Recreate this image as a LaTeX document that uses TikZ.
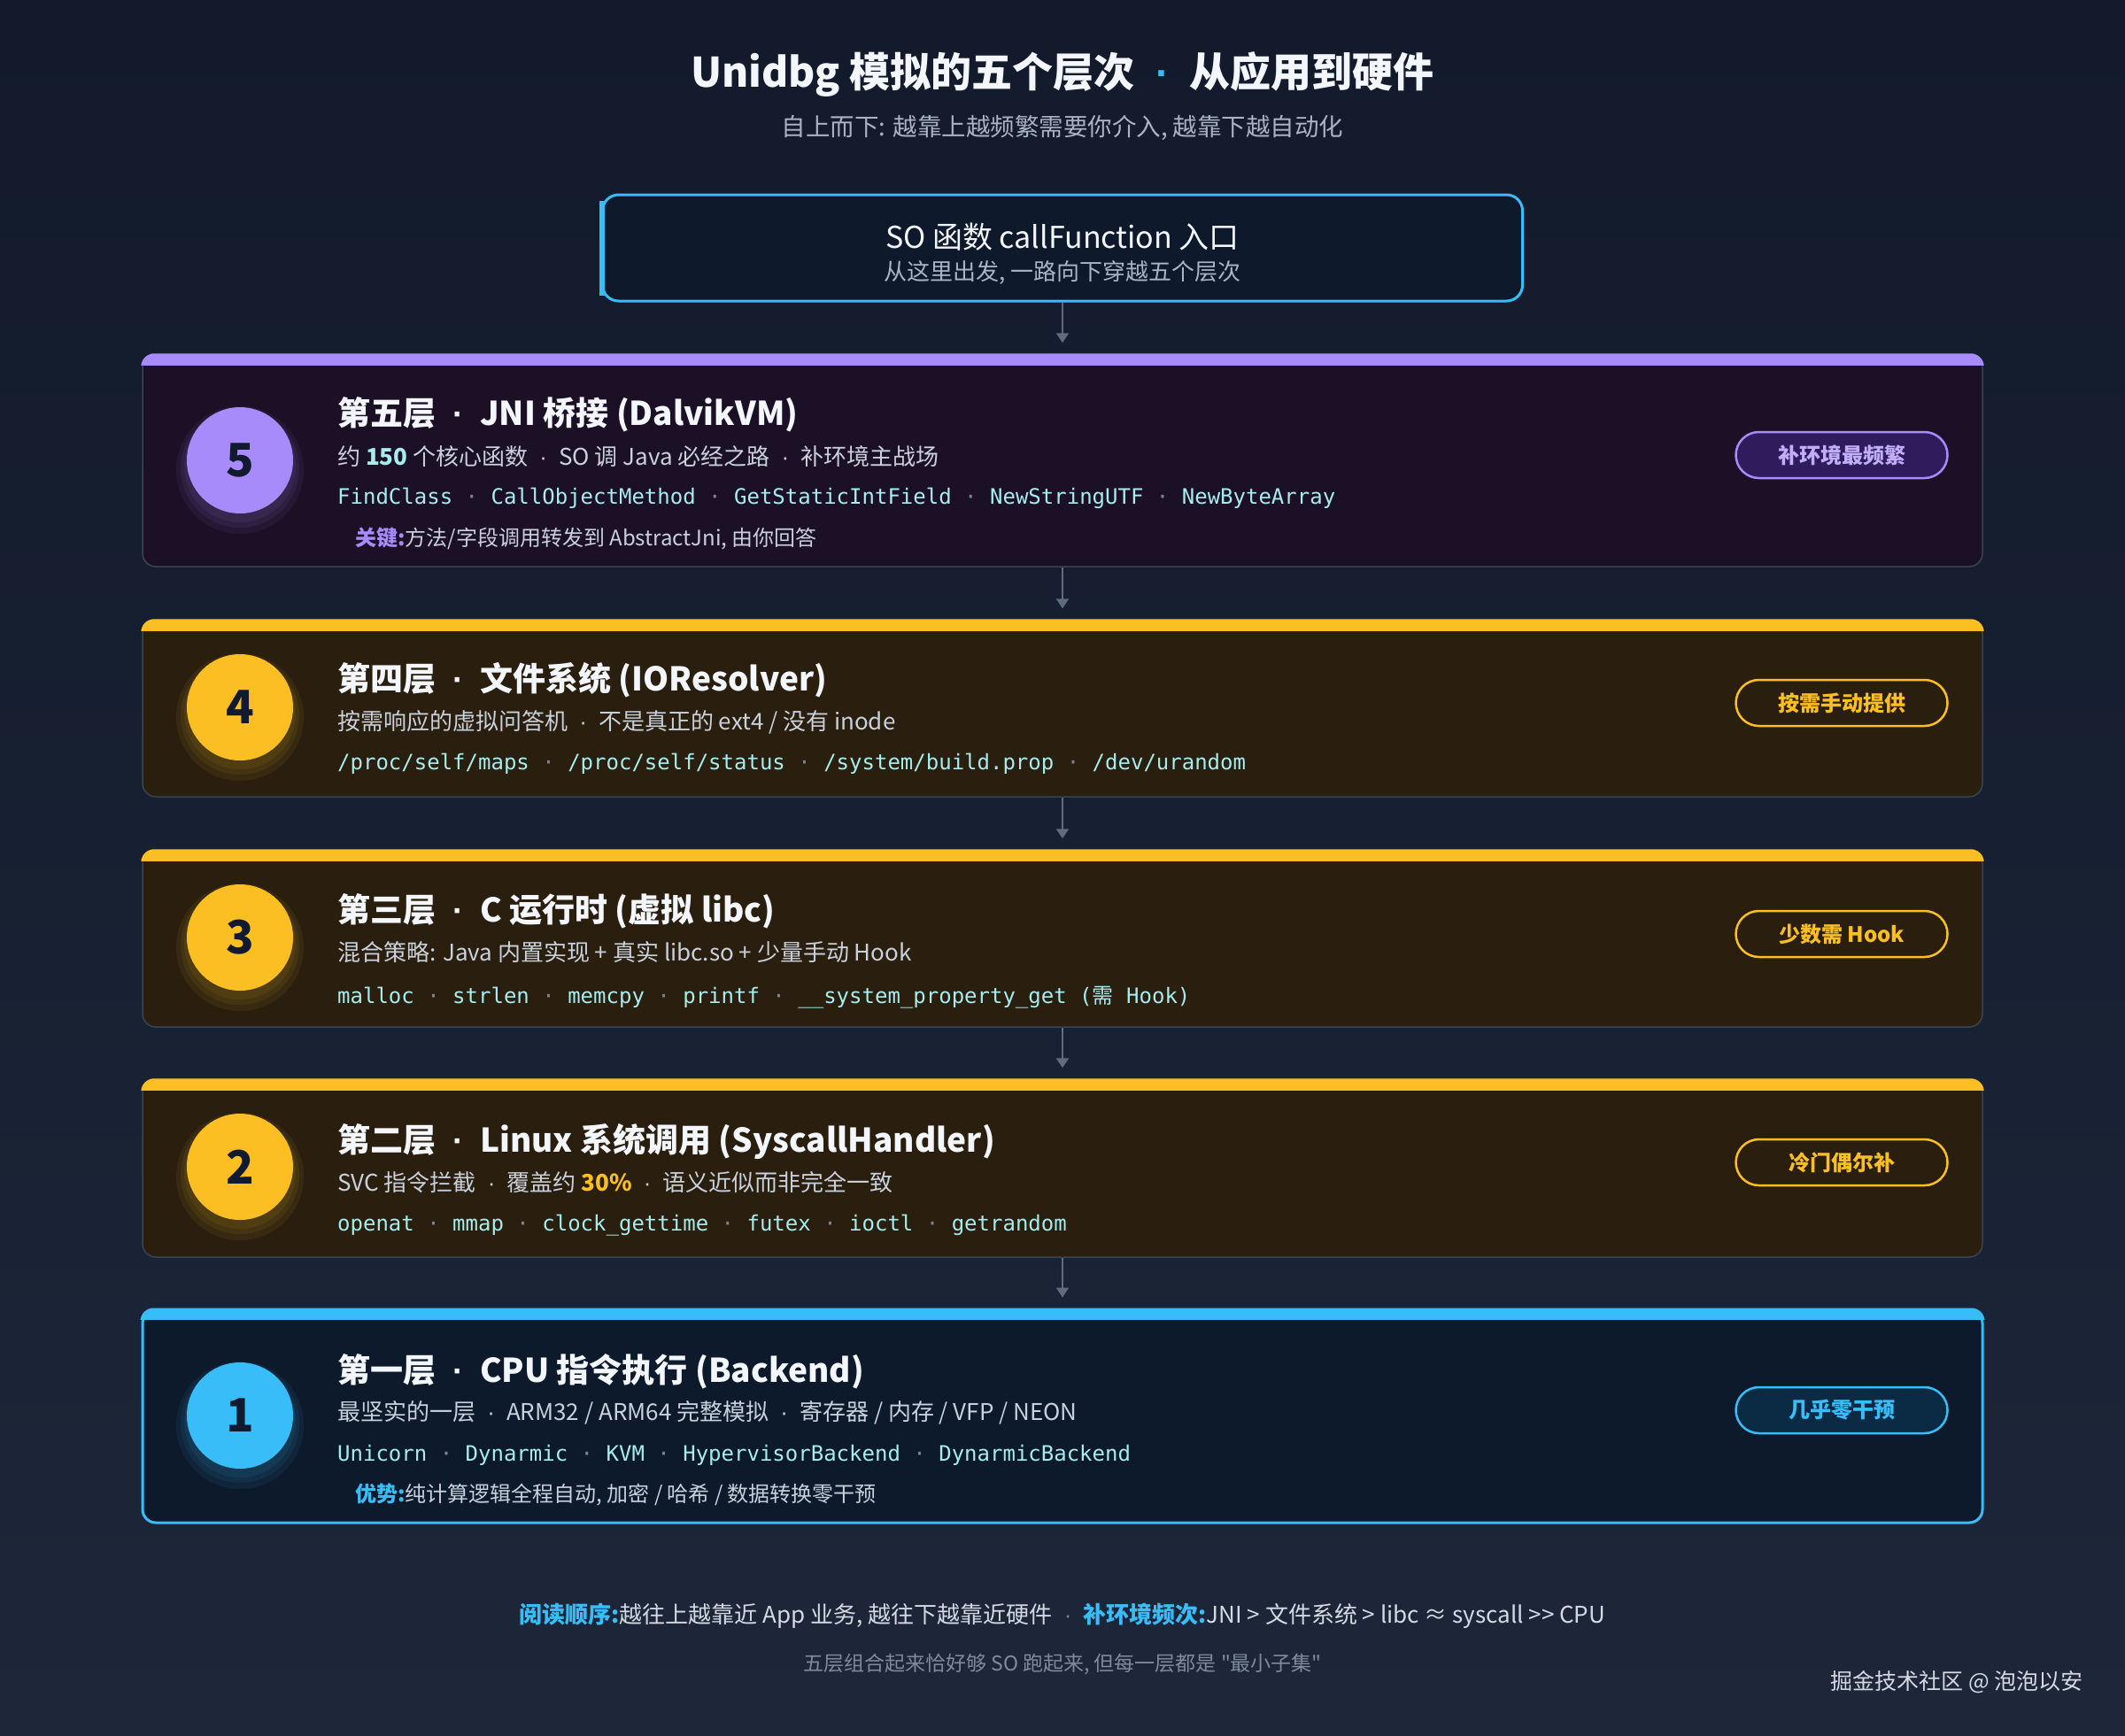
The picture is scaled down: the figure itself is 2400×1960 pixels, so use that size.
\documentclass[tikz,border=0pt]{standalone}
\usepackage{fontspec}
\setmainfont{Noto Sans CJK SC}[Ligatures=TeXOff]
\setmonofont{DejaVu Sans Mono}
\newfontfamily\cjkf{Noto Sans CJK SC}
\newfontfamily\dotf{Liberation Sans}
\usetikzlibrary{positioning,calc,arrows.meta}

\definecolor{bgtop}{HTML}{121A2B}
\definecolor{bgbot}{HTML}{1D2739}
\definecolor{entryfill}{HTML}{0E1A2C}
\definecolor{cyanline}{HTML}{38BDF8}
\definecolor{barpurple}{HTML}{A78BFA}
\definecolor{baryellow}{HTML}{FBBF24}
\definecolor{purplefill}{HTML}{1C1027}
\definecolor{brownfill}{HTML}{2A1F0F}
\definecolor{navyfill}{HTML}{0D1A2C}
\definecolor{edgegray}{HTML}{3B4352}
\definecolor{titlewhite}{HTML}{F3F6FA}
\definecolor{subgray}{HTML}{C9D1DC}
\definecolor{codecyan}{HTML}{A7ECEE}
\definecolor{dotgray}{HTML}{7C8596}
\definecolor{arrowgray}{HTML}{5F6B7E}
\definecolor{numink}{HTML}{111A2E}
\definecolor{badgepurple}{HTML}{2E1C5C}
\definecolor{badgepurpletext}{HTML}{C0AEFA}
\definecolor{badgeblue}{HTML}{0B2B45}
\definecolor{foottext}{HTML}{D3DAE4}
\definecolor{footgray}{HTML}{7F8A9C}
\definecolor{headgray}{HTML}{AAB4C3}

\newcommand{\fsize}[1]{\fontsize{#1}{#1}\selectfont}
\newcommand{\sepdot}{~{\color{dotgray}·}~}
\newcommand{\mdot}{\hspace{0.28em}{\dotf ·}\hspace{0.28em}}

\begin{document}
\begin{tikzpicture}[x=1pt,y=-1pt,
    every node/.style={inner sep=0pt},
    layerbox/.style={draw=edgegray, line width=1.5pt, rounded corners=15pt, minimum width=2078pt},
    num/.style={circle, fill=#1, minimum size=120pt, text=numink, font=\fsize{52}\bfseries},
    badge/.style={draw=#1, line width=2.5pt, rounded corners=26pt, minimum width=239pt,
        minimum height=52pt, font=\fsize{24}\bfseries},
    ltitle/.style={anchor=west, text=titlewhite, font=\fsize{37}\bfseries},
    lsub/.style={anchor=west, text=subgray, font=\fsize{26}},
    lcode/.style={anchor=west, text=codecyan, font=\ttfamily\fsize{24}},
    lnote/.style={anchor=west, text=subgray, font=\fsize{24}},
    link/.style={draw=arrowgray, line width=2pt, -{Triangle[width=14pt,length=11pt]}, shorten >=13pt}
]
% background
\shade[top color=bgtop, bottom color=bgbot] (0,0) rectangle (2400,1960);
\useasboundingbox (0,0) rectangle (2400,1960);

% heading
\node[text=titlewhite, font=\fsize{46}\bfseries] (title) at (1200,84)
    {Unidbg 模拟的五个层次 {\color{cyanline}\mdot} 从应用到硬件};
\node[text=headgray, font=\fsize{27.5}] (subtitle) at (1200,144)
    {自上而下: 越靠上越频繁需要你介入, 越靠下越自动化};

% entry
\node[draw=cyanline, line width=3pt, fill=entryfill, rounded corners=18pt,
    minimum width=1039pt, minimum height=120pt] (entry) at (1200,280) {};
\draw[cyanline, line width=6pt] ($(entry.north west)+(1,8)$) -- ($(entry.south west)+(1,-8)$);
\node[text=titlewhite, font=\fsize{34}] (entrytitle) at (1200,268) {SO 函数 callFunction 入口};
\node[text=headgray, font=\fsize{26}] (entrysub) at (1200,308) {从这里出发, 一路向下穿越五个层次};

% layer boxes
\node[layerbox, fill=purplefill, minimum height=239pt] (l5) at (1200,520.5) {};
\node[layerbox, fill=brownfill, minimum height=199pt] (l4) at (1200,800.5) {};
\node[layerbox, fill=brownfill, minimum height=199pt] (l3) at (1200,1060.5) {};
\node[layerbox, fill=brownfill, minimum height=200pt] (l2) at (1200,1320) {};
\node[layerbox, draw=cyanline, line width=3pt, fill=navyfill, minimum height=240pt] (l1) at (1200,1600) {};

% top bars
\foreach \l/\c in {l5/barpurple, l4/baryellow, l3/baryellow, l2/baryellow, l1/cyanline} {
    \begin{scope}
        \clip ($(\l.north west)+(-3,-3)$) rectangle ($(\l.north east)+(3,12)$);
        \fill[\c, rounded corners=15pt] ($(\l.north west)+(-1,-1)$) rectangle ($(\l.south east)+(1,0)$);
    \end{scope}
}

% numbers, with a soft glow under each
\foreach \n/\y/\c in {5/520/barpurple, 4/799/baryellow, 3/1059/baryellow, 2/1318/baryellow, 1/1599/cyanline} {
    \foreach \r/\d in {72/11, 67/9, 63/7}
        \fill[\c, opacity=.07] (271,\y+\d) circle (\r);
    \node[num=\c] (c\n) at (271,\y) {\n};
}

% layer 5
\node[ltitle] (t5) at (381,468) {第五层 \mdot{} JNI 桥接 (DalvikVM)};
\node[lsub] (s5) at (381,516) {约 {\color{codecyan}\bfseries 150} 个核心函数 \mdot{} SO 调 Java 必经之路 \mdot{} 补环境主战场};
\node[lcode] (k5) at (381,563) {FindClass\sepdot CallObjectMethod\sepdot GetStaticIntField\sepdot NewStringUTF\sepdot NewByteArray};
\node[lnote] (n5) at (401,608) {{\color{barpurple}\bfseries 关键:}方法/字段调用转发到 AbstractJni, 由你回答};
\node[badge=barpurple, fill=badgepurple, text=badgepurpletext] (b5) at (2080,514) {补环境最频繁};

% layer 4
\node[ltitle] (t4) at (381,768) {第四层 \mdot{} 文件系统 (IOResolver)};
\node[lsub] (s4) at (381,816) {按需响应的虚拟问答机 \mdot{} 不是真正的 ext4 / 没有 inode};
\node[lcode] (k4) at (381,863) {/proc/self/maps\sepdot /proc/self/status\sepdot /system/build.prop\sepdot /dev/urandom};
\node[badge=baryellow, text=baryellow] (b4) at (2080,794) {按需手动提供};

% layer 3
\node[ltitle] (t3) at (381,1029) {第三层 \mdot{} C 运行时 (虚拟 libc)};
\node[lsub] (s3) at (381,1076) {混合策略: Java 内置实现 + 真实 libc.so + 少量手动 Hook};
\node[lcode] (k3) at (381,1127) {malloc\sepdot strlen\sepdot memcpy\sepdot printf\sepdot \_\_system\_property\_get ({\cjkf 需} Hook)};
\node[badge=baryellow, text=baryellow] (b3) at (2080,1055) {少数需 Hook};

% layer 2
\node[ltitle] (t2) at (381,1289) {第二层 \mdot{} Linux 系统调用 (SyscallHandler)};
\node[lsub] (s2) at (381,1336) {SVC 指令拦截 \mdot{} 覆盖约 {\color{baryellow}\bfseries 30\%} \mdot{} 语义近似而非完全一致};
\node[lcode] (k2) at (381,1384) {openat\sepdot mmap\sepdot clock\_gettime\sepdot futex\sepdot ioctl\sepdot getrandom};
\node[badge=baryellow, text=baryellow] (b2) at (2080,1313) {冷门偶尔补};

% layer 1
\node[ltitle] (t1) at (381,1549) {第一层 \mdot{} CPU 指令执行 (Backend)};
\node[lsub] (s1) at (381,1596) {最坚实的一层 \mdot{} ARM32 / ARM64 完整模拟 \mdot{} 寄存器 / 内存 / VFP / NEON};
\node[lcode] (k1) at (381,1644) {Unicorn\sepdot Dynarmic\sepdot KVM\sepdot HypervisorBackend\sepdot DynarmicBackend};
\node[lnote] (n1) at (401,1688) {{\color{cyanline}\bfseries 优势:}纯计算逻辑全程自动, 加密 / 哈希 / 数据转换零干预};
\node[badge=cyanline, fill=badgeblue, text=cyanline] (b1) at (2080,1593) {几乎零干预};

% connectors
\draw[link] (entry.south) -- (l5.north);
\foreach \a/\b in {l5/l4, l4/l3, l3/l2, l2/l1}
    \draw[link] (\a.south) -- (\b.north);

% footer
\node[text=foottext, font=\fsize{26}] (foot) at (1200,1825)
    {{\color{cyanline}\bfseries 阅读顺序:}越往上越靠近 App 业务, 越往下越靠近硬件 {\color{dotgray}\mdot} {\color{cyanline}\bfseries 补环境频次:}JNI > 文件系统 > libc ≈ syscall >> CPU};
\node[text=footgray, font=\fsize{23}] (footnote) at (1200,1880)
    {五层组合起来恰好够 SO 跑起来, 但每一层都是 "最小子集"};
\node[anchor=east, text=foottext, font=\fsize{25}] (mark) at (2353,1900) {掘金技术社区 @ 泡泡以安};
\end{tikzpicture}
\end{document}
